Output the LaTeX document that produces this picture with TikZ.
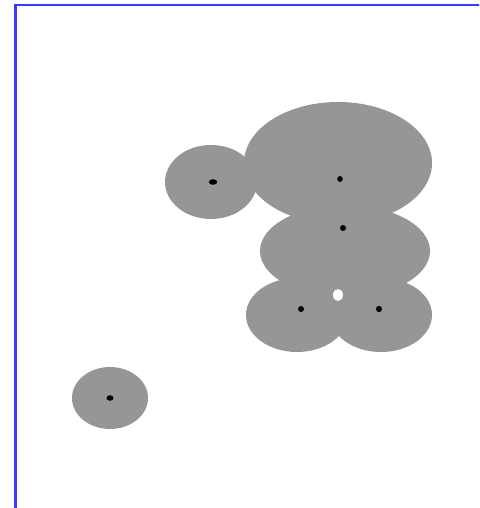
\documentclass[tikz,border=0pt]{standalone}
\begin{document}
\begin{tikzpicture}[x=1pt,y=-1pt,
  blob/.style={fill=blobgray,draw=none},
  seed/.style={fill=black,draw=none},
  frameline/.style={draw=framblue,line width=2.3pt}]
\definecolor{blobgray}{RGB}{150,150,150}
\definecolor{framblue}{RGB}{58,58,255}
\useasboundingbox (0,0) rectangle (479,508);
\fill[white] (0,0) rectangle (479,508);
\begin{scope}
\clip (0,0) rectangle (479,508);
\draw[frameline] (15.4,520) -- (15.4,5) -- (490,5);
\end{scope}
% regions
\fill[blob] (110,398) ellipse [x radius=38, y radius=31];
\fill[blob] (211,182) ellipse [x radius=46, y radius=37];
\fill[blob] (338,163) ellipse [x radius=94, y radius=61];
\fill[blob] (345,251) ellipse [x radius=85, y radius=46];
\fill[blob] (297,315) ellipse [x radius=51, y radius=37];
\fill[blob] (381,315) ellipse [x radius=51, y radius=37];
\fill[white] (338,295) ellipse [x radius=5, y radius=6];
% seeds
\fill[seed] (110,398) ellipse [x radius=3.5, y radius=2.8];
\fill[seed] (213,182) ellipse [x radius=4.2, y radius=2.8];
\fill[seed] (340,179) ellipse [x radius=2.8, y radius=3];
\fill[seed] (343,228) ellipse [x radius=3, y radius=3];
\fill[seed] (301,309) ellipse [x radius=3, y radius=3];
\fill[seed] (379,309) ellipse [x radius=3, y radius=3.2];
\end{tikzpicture}
\end{document}
